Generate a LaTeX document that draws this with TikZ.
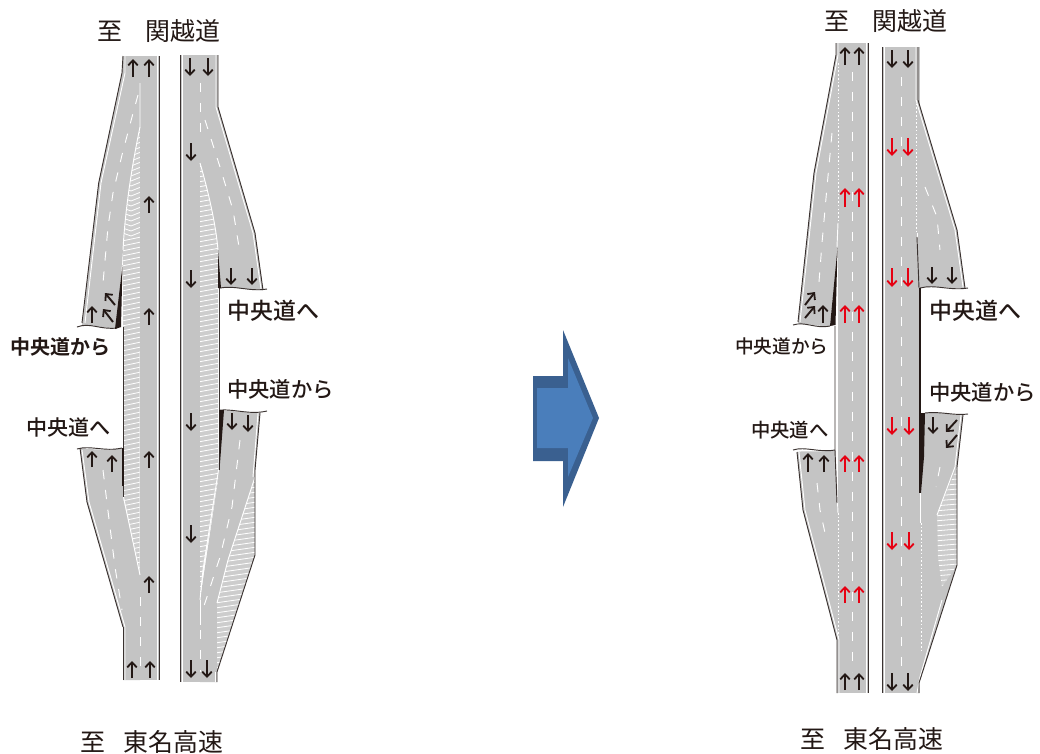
\documentclass[tikz,border=0pt]{standalone}
\usepackage{fontspec}
\setmainfont[BoldFont={Noto Sans CJK JP Bold}]{Noto Sans CJK JP}
\newfontfamily\medf{Noto Sans CJK JP Medium}
\usetikzlibrary{arrows.meta}
\definecolor{road}{HTML}{C4C4C4}
\definecolor{edgec}{HTML}{3A3230}
\definecolor{ink}{HTML}{231815}
\definecolor{redar}{HTML}{E60012}
\definecolor{arrowout}{HTML}{3A6090}
\definecolor{arrowin}{HTML}{4A7EBB}
\definecolor{hatchbg}{HTML}{CDCDCD}
\tikzset{
 roadfill/.style={fill=road,draw=none},
 hatchline/.style={draw=white,line width=.6pt},
 roadedge/.style={draw=edgec,line width=.7pt},
 solidw/.style={draw=white,line width=.7pt},
 dashw/.style={draw=white,line width=.7pt,dash pattern=on 7pt off 8pt},
 dotw/.style={draw=white,line width=.6pt,dash pattern=on 1.2pt off 1.6pt},
 wedge/.style={fill=ink,draw=none},
 blk/.style={draw=ink,line width=1.45pt,-{Straight Barb[length=3.8pt,width=7.2pt,line width=1.35pt]}},
 rd/.style={draw=redar,line width=1.45pt,-{Straight Barb[length=3.8pt,width=7.2pt,line width=1.35pt]}},
 lab/.style={text=ink,inner sep=0pt,anchor=west},
}
\newcommand{\fs}[1]{\fontsize{#1}{#1}\selectfont}
\begin{document}
\begin{tikzpicture}[x=0.75pt,y=-0.75pt]
\useasboundingbox (0,0) rectangle (1040,754);
\fill[white] (0,0) rectangle (1040,754);

% ===== LEFT DIAGRAM =====
\path[roadfill] (139.5,56) rectangle (159,680);
\path[roadfill] (123,56) -- (140,56) -- (140,127)
  .. controls (132,165) and (125,210) .. (123,250) -- (117,328)
  .. controls (105,329) and (92,324) .. (82,325) -- (98.7,183) -- (122,73) -- cycle;
\path[roadfill] (80,448) .. controls (90,449) and (105,451) .. (122,448) -- (123,497) -- (140,575) -- (140,680)
  -- (123,680) -- (123,627) -- (87,502) -- cycle;
\begin{scope}
 \clip (140,127) .. controls (132,165) and (125,210) .. (123,250) -- (123,497) -- (139.5,573) -- cycle;
 \fill[hatchbg] (115,120) rectangle (145,580);
 \foreach \yy in {124,129,...,234}{\draw[hatchline] (120,\yy-2) -- (131,\yy+2) -- (141,\yy-2);}
 \foreach \yy in {239,244,...,580}{\draw[hatchline] (122,\yy+2) -- (141,\yy-2);}
\end{scope}
\draw[solidw] (140,83) -- (140,127) .. controls (132,165) and (125,210) .. (123,250);
\draw[solidw] (123.5,497) -- (140,575);
\draw[solidw] (157,56) -- (157,680);
\draw[solidw] (125,56) -- (125,73) -- (101,183) -- (85,323);
\draw[solidw] (82,450) -- (89,502) -- (125,627) -- (125,680);
\draw[dashw] (138,95) -- (132,117) -- (122,155) -- (113,193) -- (108,227) -- (103,283);
\draw[dashw] (103,470) -- (107,503) -- (115,567) -- (122,610);
\draw[dashw] (140,597) -- (140,672);
\draw[roadedge] (123,56) -- (122,73) -- (98.7,183) -- (82,323);
\draw[roadedge] (77,327) .. controls (90,322) and (100,330) .. (117,328);
\draw[roadedge] (159,56) -- (159,680);
\draw[roadedge] (123,327) -- (123,497);
\draw[roadedge] (123,627) -- (123,680);
\draw[roadedge] (77,449) .. controls (90,445) and (105,452) .. (122,448);
\draw[roadedge] (80,448) -- (87,502) -- (123,627);
\path[wedge] (122.5,265) -- (115,329) -- (121,327) -- cycle;
\path[wedge] (122,448) -- (122,486) -- (123.5,486) -- (123.5,448) -- cycle;

\path[roadfill] (180,55) rectangle (200.5,682);
\path[roadfill] (200,55) -- (218,55) -- (218,107) -- (255,233) -- (263,290)
  .. controls (250,291) and (235,286) .. (220,288) -- (218,250)
  .. controls (216,225) and (208,190) .. (200,163) -- cycle;
\path[roadfill] (220,411) .. controls (235,410) and (250,414) .. (260,413) -- (255,470) -- (255,477)
  -- (228,560) -- (217,603) -- (217,682) -- (200,682) -- (200,600) -- (218,480) -- cycle;
\begin{scope}
 \clip (200,163) .. controls (208,190) and (216,225) .. (218,250) -- (218,480) -- (203,570) -- (200,600) -- cycle;
 \fill[hatchbg] (195,160) rectangle (222,605);
 \foreach \yy in {160,165,...,605}{\draw[hatchline] (198,\yy+2) -- (220,\yy-2);}
\end{scope}
\begin{scope}
 \clip (255,477) -- (228,560) -- (217,603) -- (217,672) -- (255,555) -- cycle;
 \fill[hatchbg] (215,470) rectangle (258,675);
 \foreach \yy in {470,475,...,675}{\draw[hatchline] (215,\yy+3) -- (257,\yy-3);}
\end{scope}
\draw[solidw] (200,163) .. controls (208,190) and (216,225) .. (218,250);
\draw[solidw] (218.5,470) -- (203,570) -- (200,600);
\draw[solidw] (255,477) -- (228,560) -- (217,603);
\draw[solidw] (182,55) -- (182,682);
\draw[solidw] (216,55) -- (216,107) -- (253,233) -- (261,289);
\draw[solidw] (258,413) -- (253,477);
\draw[solidw] (200,600) -- (200,625);
\draw[solidw] (215,682) -- (215,672);
\draw[dashw] (200,83) -- (200,140);
\draw[dashw] (205,120) -- (220,167) -- (233,210) -- (240,253);
\draw[dashw] (240,440) -- (232,507) -- (220,557) -- (204,606);
\draw[dashw] (200,630) -- (200,672);
\draw[roadedge] (180,55) -- (180,682);
\draw[roadedge] (218,55) -- (218,107) -- (255,233) -- (263,290);
\draw[roadedge] (267,289) .. controls (250,292) and (235,285) .. (220,288);
\draw[roadedge] (219,288) -- (219,470);
\draw[roadedge] (220,410) .. controls (235,409) and (250,415) .. (267,411);
\draw[roadedge] (260,413) -- (255,470) -- (255,555) -- (217,672) -- (217,682);
\path[wedge] (218,250) -- (218,288) -- (221,288) -- cycle;
\path[wedge] (219,410) -- (224,410) -- (219.5,470) -- cycle;

\draw[blk] (133,77) -- (133,59);
\draw[blk] (149,77) -- (149,59);
\draw[blk] (149,213) -- (149,196);
\draw[blk] (149,325) -- (149,308);
\draw[blk] (149,468) -- (149,451);
\draw[blk] (149,593) -- (149,576);
\draw[blk] (132,678) -- (132,661);
\draw[blk] (150,678) -- (150,661);
\draw[blk] (92,467) -- (92,451);
\draw[blk] (112,472) -- (112,455);
\draw[blk] (92,323) -- (92,306);
\draw[blk] (115,305) -- (105,293);
\draw[blk] (113,322) -- (103,309);
\draw[blk] (190,58) -- (190,76);
\draw[blk] (208,58) -- (208,76);
\draw[blk] (191,143) -- (191,161);
\draw[blk] (191,270) -- (191,288);
\draw[blk] (231,268) -- (231,285);
\draw[blk] (252,268) -- (252,285);
\draw[blk] (191,413) -- (191,431);
\draw[blk] (191,525) -- (191,543);
\draw[blk] (191,660) -- (191,678);
\draw[blk] (207,660) -- (207,678);
\draw[blk] (232,413) -- (232,430);
\draw[blk] (248,415) -- (248,432);

% ===== RIGHT DIAGRAM =====
\path[roadfill] (837.5,43) rectangle (868,693);
\path[roadfill] (836,43) -- (838,43) -- (838,247) -- (830,326)
  .. controls (820,327) and (808,323) .. (798,324) -- (814,173) -- (836,55) -- cycle;
\path[roadfill] (797,452) .. controls (808,450) and (820,453) .. (835,450) -- (838,503) -- (838,693)
  -- (837,693) -- (837,640) -- (803,510) -- cycle;
\draw[solidw] (866,43) -- (866,693);
\draw[solidw] (838,43) -- (838,55) -- (816,173) -- (800,322);
\draw[solidw] (799,452) -- (805,510) -- (839,640) -- (839,693);
\draw[dashw] (852,72) -- (852,672);
\draw[dotw] (838,63) -- (838,223);
\draw[solidw] (838,223) -- (837,247);
\draw[solidw] (837,490) -- (838,513);
\draw[dotw] (838,513) -- (838,637);
\draw[dashw] (832,133) -- (827,187) -- (822,243) -- (819,282);
\draw[dashw] (817,483) -- (820,510) -- (827,542);
\draw[roadedge] (836,43) -- (836,55) -- (814,173) -- (798,322);
\draw[roadedge] (793,325) .. controls (805,321) and (815,329) .. (830,326);
\draw[roadedge] (868,43) -- (868,693);
\draw[roadedge] (835,326) -- (835,450) -- (837,503);
\draw[roadedge] (793,450) .. controls (805,446) and (820,453) .. (835,450);
\draw[roadedge] (797,452) -- (803,510) -- (837,640) -- (837,693);
\path[wedge] (837.5,248) -- (830,326) -- (835.5,325) -- cycle;

\path[roadfill] (882,47) rectangle (919.5,693);
\path[roadfill] (916,47) -- (918,47) -- (918,100) -- (957,230) -- (965,288)
  .. controls (950,289) and (935,285) .. (920,288) -- (917,237) -- cycle;
\path[roadfill] (925,413) .. controls (940,412) and (952,415) .. (963,415) -- (957,467) -- (957,565)
  -- (919,683) -- (919,693) -- (916,693) -- (916,493) -- (921,493) -- cycle;
\begin{scope}
 \clip (957,467) -- (937,515) -- (938,557) -- (942,587) -- (957,565) -- cycle;
 \fill[hatchbg] (930,460) rectangle (960,592);
 \foreach \yy in {460,465,...,592}{\draw[hatchline] (934,\yy+1) -- (958,\yy-1);}
\end{scope}
\draw[solidw] (884,47) -- (884,693);
\draw[solidw] (916,47) -- (916,100) -- (955,230) -- (963,287);
\draw[solidw] (961,415) -- (955,467) -- (937,515);
\draw[solidw] (942,600) -- (920,677) -- (917,693);
\draw[dashw] (901,77) -- (901,672);
\draw[dotw] (916,100) -- (916,233);
\draw[solidw] (917,233) -- (917,250);
\draw[solidw] (920,493) -- (920,523);
\draw[dotw] (921,523) -- (921,650);
\draw[dashw] (925,187) -- (937,217) -- (940,250);
\draw[dashw] (940,467) -- (936,487);
\draw[roadedge] (882,47) -- (882,693);
\draw[roadedge] (918,47) -- (918,100) -- (957,230) -- (965,288);
\draw[roadedge] (968,288) .. controls (950,291) and (935,284) .. (920,288);
\draw[roadedge] (917,237) -- (919,288);
\draw[draw=ink,line width=1pt] (920,288) -- (920,493);
\draw[roadedge] (925,413) .. controls (940,411) and (955,416) .. (968,414);
\draw[roadedge] (963,415) -- (957,467) -- (957,565) -- (919,683) -- (919,693);
\path[wedge] (920,413) -- (925,413) -- (924,457) -- (921,493) -- cycle;

\draw[blk] (845,65) -- (845,47);
\draw[blk] (859,65) -- (859,47);
\draw[blk] (892,50) -- (892,68);
\draw[blk] (908,50) -- (908,68);
\draw[rd] (845,207) -- (845,188);
\draw[rd] (859,207) -- (859,188);
\draw[rd] (845,323) -- (845,305);
\draw[rd] (859,323) -- (859,305);
\draw[rd] (845,472) -- (845,455);
\draw[rd] (859,472) -- (859,455);
\draw[rd] (845,603) -- (845,586);
\draw[rd] (859,603) -- (859,586);
\draw[blk] (845,690) -- (845,673);
\draw[blk] (859,690) -- (859,673);
\draw[rd] (892,138) -- (892,156);
\draw[rd] (908,138) -- (908,156);
\draw[rd] (892,268) -- (892,287);
\draw[rd] (908,268) -- (908,287);
\draw[rd] (892,417) -- (892,435);
\draw[rd] (909,417) -- (909,435);
\draw[rd] (892,532) -- (892,550);
\draw[rd] (909,532) -- (909,550);
\draw[blk] (892,673) -- (892,691);
\draw[blk] (908,673) -- (908,691);
\draw[blk] (932,267) -- (932,284);
\draw[blk] (952,267) -- (952,284);
\draw[blk] (933,417) -- (933,434);
\draw[blk] (957,420) -- (946,432);
\draw[blk] (957,435) -- (946,448);
\draw[blk] (823,323) -- (823,305);
\draw[blk] (805,305) -- (815,292);
\draw[blk] (805,318) -- (815,306);
\draw[blk] (808,472) -- (808,453);
\draw[blk] (824,472) -- (824,455);

\path[fill=arrowout] (533,376) -- (563,376) -- (563,330) -- (599,418) -- (563,507) -- (563,461) -- (533,461) -- cycle;
\path[fill=arrowin] (537,388) -- (568,388) -- (568,358) -- (593,418) -- (568,477) -- (568,448) -- (537,448) -- cycle;

\node[lab] (t1) at (97,31) {\fs{18.7}至\hspace{.95em}関越道};
\node[lab] (t2) at (80,742) {\fs{18.7}至\hspace{.75em}東名高速};
\node[lab] (t3) at (824,21) {\fs{18.7}至\hspace{.95em}関越道};
\node[lab] (t4) at (800,739) {\fs{18.7}至\hspace{.75em}東名高速};
\node[lab] (l1) at (227,311) {\fs{17.2}\medf 中央道へ};
\node[lab] (l2) at (227,389) {\fs{16}\medf 中央道から};
\node[lab] (l3) at (26,427) {\fs{15.8}\medf 中央道へ};
\node[lab] (l4) at (10,347) {\fs{15}\bfseries 中央道から};
\node[lab] (l5) at (929,311) {\fs{17.2}\medf 中央道へ};
\node[lab] (l6) at (929,392) {\fs{16}\medf 中央道から};
\node[lab] (l7) at (751,430) {\fs{14.5}\medf 中央道へ};
\node[lab] (l8) at (735,346) {\fs{14}\medf 中央道から};
\end{tikzpicture}
\end{document}
